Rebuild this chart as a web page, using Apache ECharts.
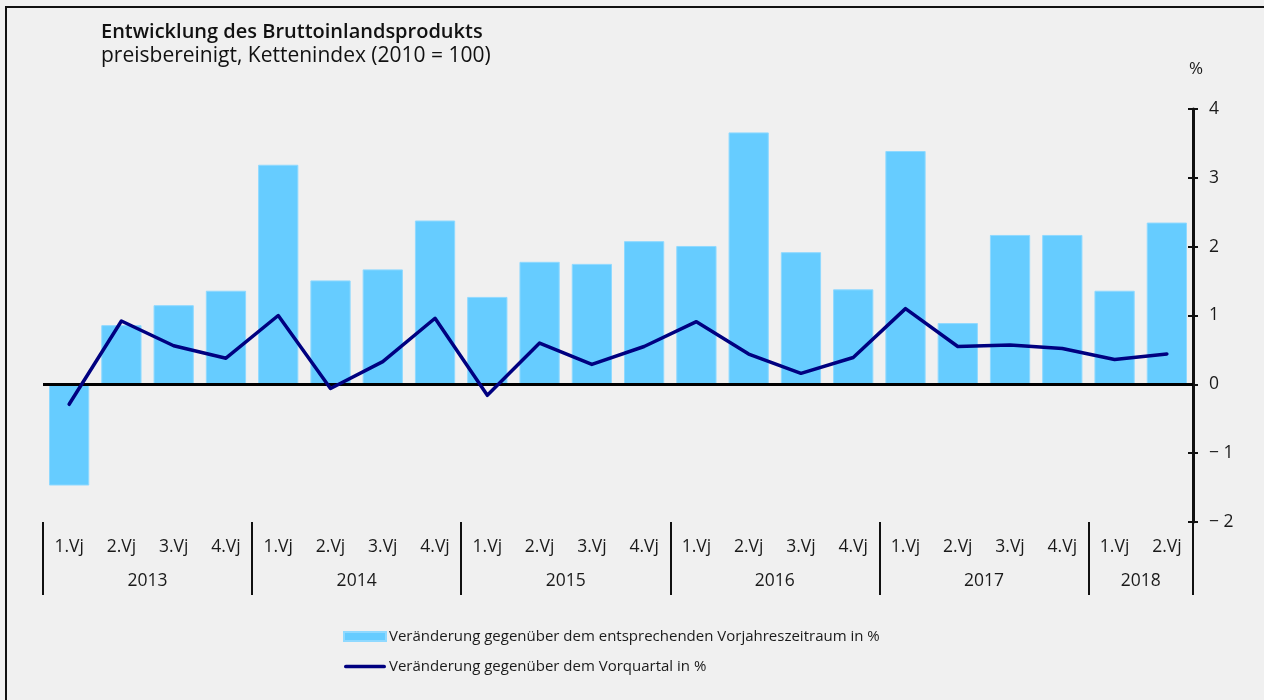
<!DOCTYPE html>
<html>
<head>
<meta charset="utf-8">
<script src="https://cdn.jsdelivr.net/npm/echarts@6/dist/echarts.min.js"></script>
<style>
html,body{margin:0;padding:0;background:#f0f0f0;}
#c{width:1264px;height:700px;}
</style>
</head>
<body>
<div id="c"></div>
<script>
// ---- data ----
const quarters = ['1.Vj','2.Vj','3.Vj','4.Vj','1.Vj','2.Vj','3.Vj','4.Vj','1.Vj','2.Vj','3.Vj','4.Vj','1.Vj','2.Vj','3.Vj','4.Vj','1.Vj','2.Vj','3.Vj','4.Vj','1.Vj','2.Vj'];
const years = ['2013','2014','2015','2016','2017','2018'];
const yearCenters = [2, 6, 10, 14, 18, 21];
const yearBounds = [0, 4, 8, 12, 16, 20, 22];
const vorjahr = [-1.47, 0.86, 1.15, 1.36, 3.19, 1.51, 1.67, 2.38, 1.27, 1.78, 1.75, 2.08, 2.01, 3.66, 1.92, 1.38, 3.39, 0.89, 2.17, 2.17, 1.36, 2.35];
const vorquartal = [-0.29, 0.92, 0.56, 0.38, 1.0, -0.06, 0.33, 0.96, -0.16, 0.6, 0.29, 0.55, 0.91, 0.44, 0.16, 0.39, 1.1, 0.55, 0.57, 0.52, 0.36, 0.44];
const seriesNames = ['Veränderung gegenüber dem entsprechenden Vorjahreszeitraum in %', 'Veränderung gegenüber dem Vorquartal in %'];

const FONT = '"Open Sans", "Noto Sans", sans-serif';
const GRID = {left: 43, right: 71, top: 109, bottom: 178};
const chart = echarts.init(document.getElementById('c'));
chart.setOption({
  backgroundColor: '#f0f0f0',
  animation: false,
  textStyle: {fontFamily: FONT, color: '#1a1a1a'},
  graphic: [{
    type: 'polyline', silent: true,
    shape: {points: [[6, 700], [6, 7], [1264, 7]]},
    style: {stroke: '#111', lineWidth: 2, fill: null}
  }],
  title: {
    text: 'Entwicklung des Bruttoinlandsprodukts',
    subtext: 'preisbereinigt, Kettenindex (2010 = 100)',
    left: 101, top: 22, itemGap: 4, padding: 0,
    textStyle: {fontFamily: FONT, fontSize: 20, fontWeight: 600, color: '#111'},
    subtextStyle: {fontFamily: FONT, fontSize: 21, color: '#111'}
  },
  legend: {
    orient: 'vertical', left: 338, top: 624, itemGap: 15,
    itemWidth: 42, itemHeight: 9,
    textStyle: {fontFamily: FONT, fontSize: 15, color: '#1a1a1a', padding: [0, 0, 0, -2]},
    data: [
      {name: seriesNames[0], icon: 'rect'},
      {name: seriesNames[1], icon: 'path://M2,0 L43,0 A2,2 0 0 1 43,4 L2,4 A2,2 0 0 1 2,0 Z', itemStyle: {color: '#000080'}}
    ]
  },
  grid: [GRID, GRID],
  xAxis: [{
    type: 'category', data: quarters, position: 'bottom', gridIndex: 0,
    axisLine: {show: false, onZero: false}, axisTick: {show: false},
    axisLabel: {margin: 16, fontSize: 17.5, color: '#1a1a1a', fontFamily: FONT, interval: 0}
  }, {
    type: 'value', min: 0, max: 22, position: 'bottom', gridIndex: 0,
    axisLine: {show: false, onZero: false}, splitLine: {show: false},
    axisTick: {show: true, customValues: yearBounds, length: 73, lineStyle: {color: '#111', width: 2}},
    axisLabel: {customValues: yearCenters, margin: 50, fontSize: 17.5, color: '#1a1a1a', fontFamily: FONT,
      formatter: v => years[yearCenters.indexOf(v)]}
  }, {
    type: 'category', data: quarters, gridIndex: 1, show: false
  }],
  yAxis: [{
    type: 'value', position: 'right', gridIndex: 0, min: -2, max: 4, interval: 1,
    name: '%', nameLocation: 'end', nameGap: 31,
    nameTextStyle: {fontSize: 17, color: '#1a1a1a', align: 'left', padding: [0, 0, 0, -4]},
    axisLine: {show: true, onZero: false, lineStyle: {color: '#111', width: 3}},
    axisTick: {show: true, inside: false, length: 5, lineStyle: {color: '#111', width: 2}},
    splitLine: {show: false},
    axisLabel: {margin: 16, fontSize: 17.5, color: '#1a1a1a', fontFamily: FONT,
      formatter: v => v < 0 ? '\u2212 ' + Math.abs(v) : String(v)}
  }, {
    type: 'value', position: 'right', gridIndex: 1, min: -2, max: 4, interval: 1,
    axisLine: {show: false, onZero: false}, splitLine: {show: false}, axisLabel: {show: false},
    axisTick: {show: true, inside: true, length: 5, lineStyle: {color: '#111', width: 2}}
  }],
  series: [{
    name: seriesNames[0], type: 'bar', data: vorjahr, barCategoryGap: '23%',
    xAxisIndex: 0, yAxisIndex: 0,
    itemStyle: {color: '#66ccff', borderColor: '#8fd9ff', borderWidth: 1},
    z: 2,
    markLine: {
      silent: true, symbol: 'none', label: {show: false},
      lineStyle: {color: '#000', width: 3, type: 'solid'},
      data: [{yAxis: 0}]
    }
  }, {
    name: seriesNames[1], type: 'line', data: vorquartal, symbol: 'none',
    xAxisIndex: 0, yAxisIndex: 0,
    lineStyle: {color: '#000080', width: 3.5, cap: 'round', join: 'round'},
    itemStyle: {color: '#000080'}, z: 5
  }]
});
</script>
</body>
</html>
